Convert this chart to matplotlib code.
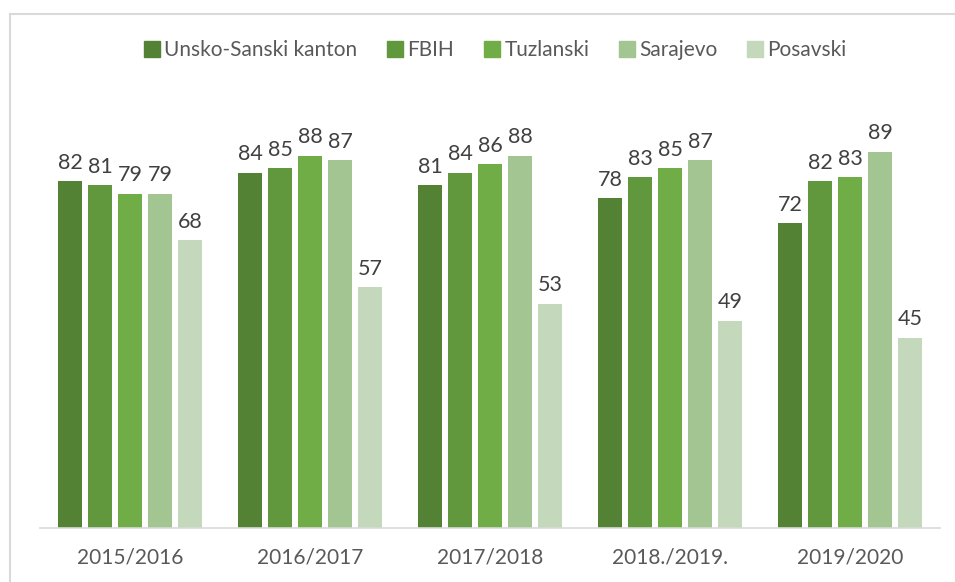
import numpy as np
import matplotlib
matplotlib.use('Agg')
import matplotlib.pyplot as plt
from matplotlib.lines import Line2D

# ── Data ───────────────────────────────────────────────────────────────────────
years = ['2015/2016', '2016/2017', '2017/2018', '2018./2019.', '2019/2020']
series = ['Unsko-Sanski kanton', 'FBIH', 'Tuzlanski', 'Sarajevo', 'Posavski']
unsko_sanski = [82, 84, 81, 78, 72]
fbih = [81, 85, 84, 83, 82]
tuzlanski = [79, 88, 86, 85, 83]
sarajevo = [79, 87, 88, 87, 89]
posavski = [68, 57, 53, 49, 45]

colors = ['#548235', '#61983E', '#70AD47', '#A3C591', '#C4D9BB']
values = [unsko_sanski, fbih, tuzlanski, sarajevo, posavski]

plt.rcParams['font.family'] = ['Lato', 'DejaVu Sans']

fig = plt.figure(figsize=(9.55, 5.82), dpi=100)
ax = fig.add_axes([40 / 955, 1 - 528 / 582, 900 / 955, 423 / 582])

x = np.arange(len(years))
pitch = 1 / 6
width = 0.134
for i, (name, vals) in enumerate(zip(series, values)):
    pos = x + (i - 2) * pitch
    bars = ax.bar(pos, vals, width=width, color=colors[i], label=name)
    for b, v in zip(bars, vals):
        ax.annotate(str(v), (b.get_x() + b.get_width() / 2, v), xytext=(0, 6),
                    textcoords='offset points', ha='center', va='bottom',
                    fontsize=15.5, color='#404040')

ax.set_xlim(-0.5, 4.5)
ax.set_ylim(0, 100)
ax.set_xticks(x)
ax.set_xticklabels(years, fontsize=15, color='#595959')
ax.tick_params(axis='x', length=0, pad=14)
ax.set_yticks([])
for s in ['top', 'right', 'left']:
    ax.spines[s].set_visible(False)
ax.spines['bottom'].set_color('#D9D9D9')
ax.spines['bottom'].set_linewidth(1.2)

handles = [Line2D([], [], marker='s', linestyle='none', markersize=11,
                  markerfacecolor=c, markeredgecolor=c) for c in colors]
fig.legend(handles, series, loc='center', bbox_to_anchor=(494 / 955, 1 - 50 / 582),
           ncol=5, frameon=False, fontsize=15, labelcolor='#595959',
           handletextpad=0.1, columnspacing=1.3, handlelength=1.0)

# outer chart border
fig.add_artist(Line2D([10 / 955, 1], [1 - 14 / 582] * 2, color='#D9D9D9', lw=1.5,
                      transform=fig.transFigure))
fig.add_artist(Line2D([10 / 955] * 2, [0, 1 - 14 / 582], color='#D9D9D9', lw=1.5,
                      transform=fig.transFigure))

fig.savefig('out.png', dpi=100)
